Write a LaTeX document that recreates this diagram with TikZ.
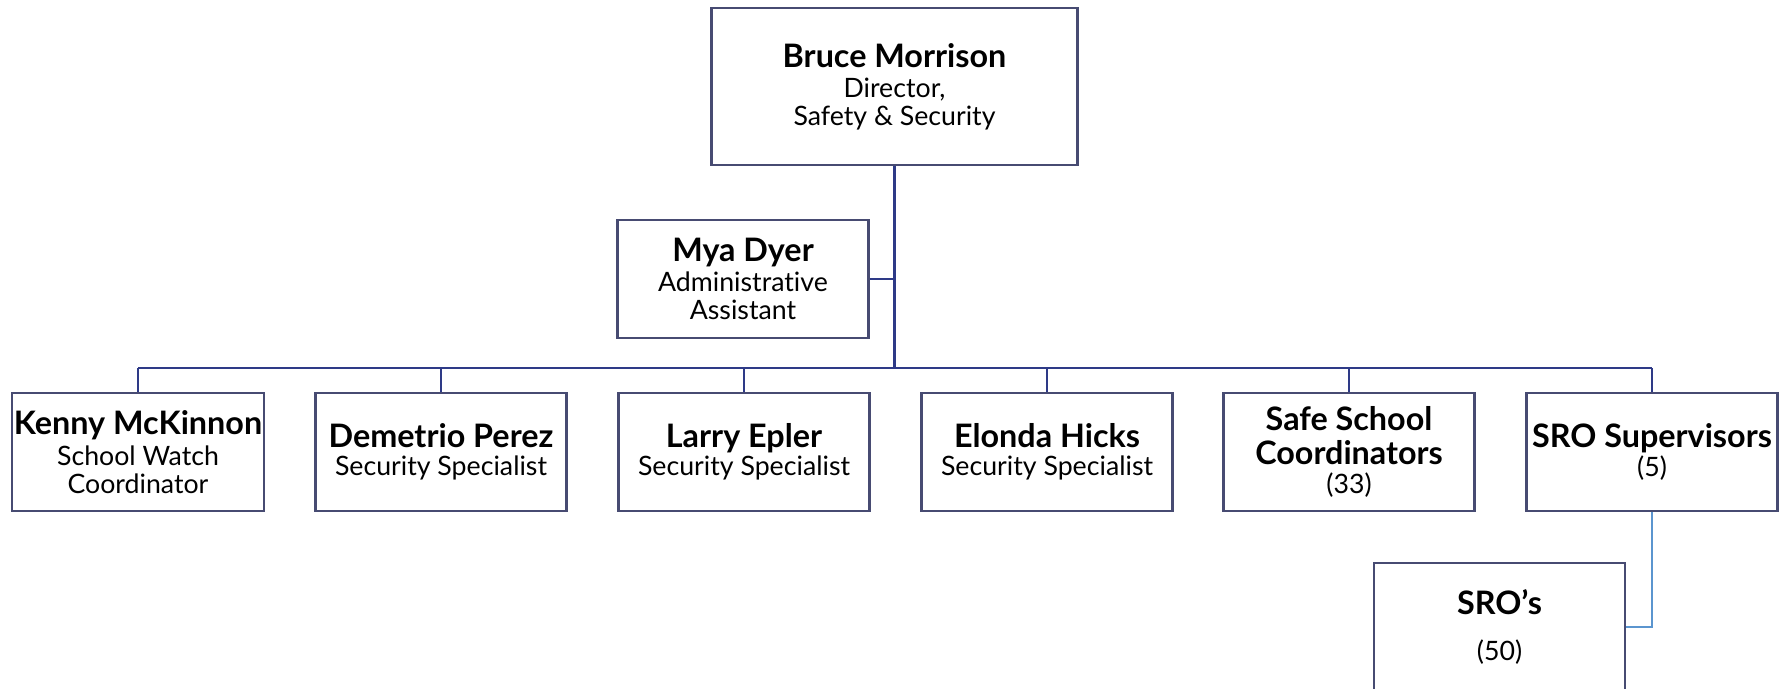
\documentclass[tikz,border=0pt]{standalone}
\usepackage{fontspec}
\setmainfont{Lato}[Ligatures=NoCommon]
\definecolor{boxline}{HTML}{474B72}
\definecolor{linkblue}{HTML}{2E3A87}
\definecolor{sroblue}{HTML}{5B95CF}
\newcommand{\who}[1]{{\fontsize{18.4}{20}\selectfont\bfseries #1}}
\begin{document}
\begin{tikzpicture}[x=0.02cm, y=-0.02cm,
    person/.style={rectangle, draw=boxline, line width=1.4pt, fill=white, align=center, minimum width=5.02cm, minimum height=2.36cm, inner sep=1pt, font=\fontsize{15.2}{16}\selectfont},
    head/.style={person, minimum width=7.32cm, minimum height=3.14cm},
    link/.style={draw=linkblue, line width=1.5pt},
    srolink/.style={draw=sroblue, line width=1.5pt}
]
\useasboundingbox (0,0) rectangle (1782,689);

% Director
\node[head] (director) at (894.5,86.5) {\who{Bruce Morrison}\\[1pt]Director,\\Safety \& Security};

% Assistant
\node[person] (assistant) at (743,279) {\who{Mya Dyer}\\[1pt]Administrative\\Assistant};

% Staff
\node[person] (kenny) at (138,452) {\who{Kenny McKinnon}\\[2pt]School Watch\\Coordinator};
\node[person] (demetrio) at (441,452) {\who{Demetrio Perez}\\Security Specialist};
\node[person] (larry) at (744,452) {\who{Larry Epler}\\Security Specialist};
\node[person] (elonda) at (1047,452) {\who{Elonda Hicks}\\Security Specialist};
\node[person] (safe) at (1349,452) {\who{Safe School}\\[3pt]\who{Coordinators}\\[0.5pt](33)};
\node[person] (srosup) at (1652,452) {\who{SRO Supervisors}\\[0.5pt](5)};

% SROs
\node[person, minimum height=2.56cm] (sros) at (1499.5,627) {\who{SRO’s}\\[10.7pt](50)};

% Connections
\coordinate (bus) at (894.5,368);
\draw[link] (director.south) -- (bus);
\draw[link] (assistant.east) -- (assistant.east -| director.south);
\draw[link] (bus -| kenny) -- (bus -| srosup);
\draw[link] (bus -| kenny) -- (kenny.north);
\draw[link] (bus -| demetrio) -- (demetrio.north);
\draw[link] (bus -| larry) -- (larry.north);
\draw[link] (bus -| elonda) -- (elonda.north);
\draw[link] (bus -| safe) -- (safe.north);
\draw[link] (bus -| srosup) -- (srosup.north);
\draw[srolink] (srosup.south) |- (sros.east);

\end{tikzpicture}
\end{document}
